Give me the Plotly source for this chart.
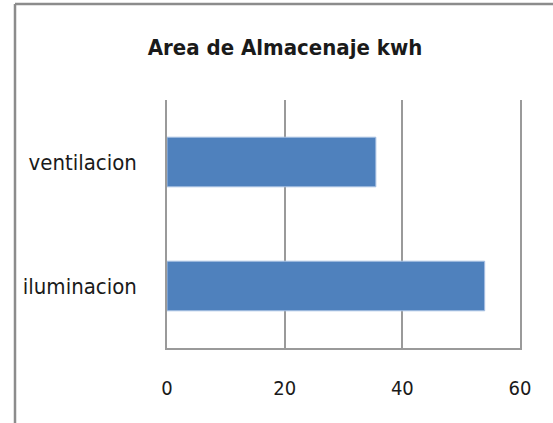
import plotly.graph_objects as go

# Energy use per area (kWh)
categories = ["ventilacion", "iluminacion"]
values = [35.5, 54]
x_ticks = [0, 20, 40, 60]

FONT = "Liberation Sans Narrow, DejaVu Sans Condensed, sans-serif"
GRID = "#9a9a9a"

fig = go.Figure(
    go.Bar(
        x=values,
        y=categories,
        orientation="h",
        width=0.4,
        marker=dict(color="#4f81bd", line=dict(color="#a9c1e3", width=1)),
    )
)

W, H = 553, 423
L, R, T, B = 167, 33, 100, 75
pw, ph = W - L - R, H - T - B


def px_to_paper(px, py):
    return (px - L) / pw, 1 - (py - T) / ph


# outer chart frame (left and top edges)
x0, y0 = px_to_paper(15, 4)
x1, _ = px_to_paper(W + 5, 4)
_, yb = px_to_paper(15, H + 5)
frame = dict(type="line", xref="paper", yref="paper",
             line=dict(color="#8c8c8c", width=2.5))

fig.update_layout(
    width=W,
    height=H,
    margin=dict(l=L, r=R, t=T, b=B, autoexpand=False),
    paper_bgcolor="white",
    plot_bgcolor="white",
    showlegend=False,
    title=dict(
        text="<b>Area de Almacenaje kwh</b>",
        x=285 / W,
        xanchor="center",
        y=1 - 47 / H,
        yanchor="middle",
        font=dict(family=FONT, size=22, color="#1a1a1a"),
    ),
    font=dict(family=FONT, color="#1a1a1a"),
    xaxis=dict(
        range=[0, 60],
        tickvals=x_ticks,
        ticktext=[str(v) for v in x_ticks],
        showgrid=True,
        gridcolor=GRID,
        gridwidth=1.5,
        zeroline=False,
        showline=True,
        linecolor=GRID,
        linewidth=1.5,
        ticks="",
        tickfont=dict(family=FONT, size=20, color="#1a1a1a"),
        ticklabelstandoff=21,
        automargin=False,
        fixedrange=True,
    ),
    yaxis=dict(
        autorange="reversed",
        showgrid=False,
        zeroline=False,
        showline=True,
        mirror=True,
        linecolor=GRID,
        linewidth=1.5,
        ticks="",
        tickfont=dict(family=FONT, size=22, color="#1a1a1a"),
        ticklabelstandoff=24,
        automargin=False,
        fixedrange=True,
    ),
    shapes=[
        dict(frame, x0=x0, y0=y0, x1=x0, y1=yb),
        dict(frame, x0=x0, y0=y0, x1=x1, y1=y0),
    ],
)

fig.write_html("out.html", config={"displayModeBar": False})
